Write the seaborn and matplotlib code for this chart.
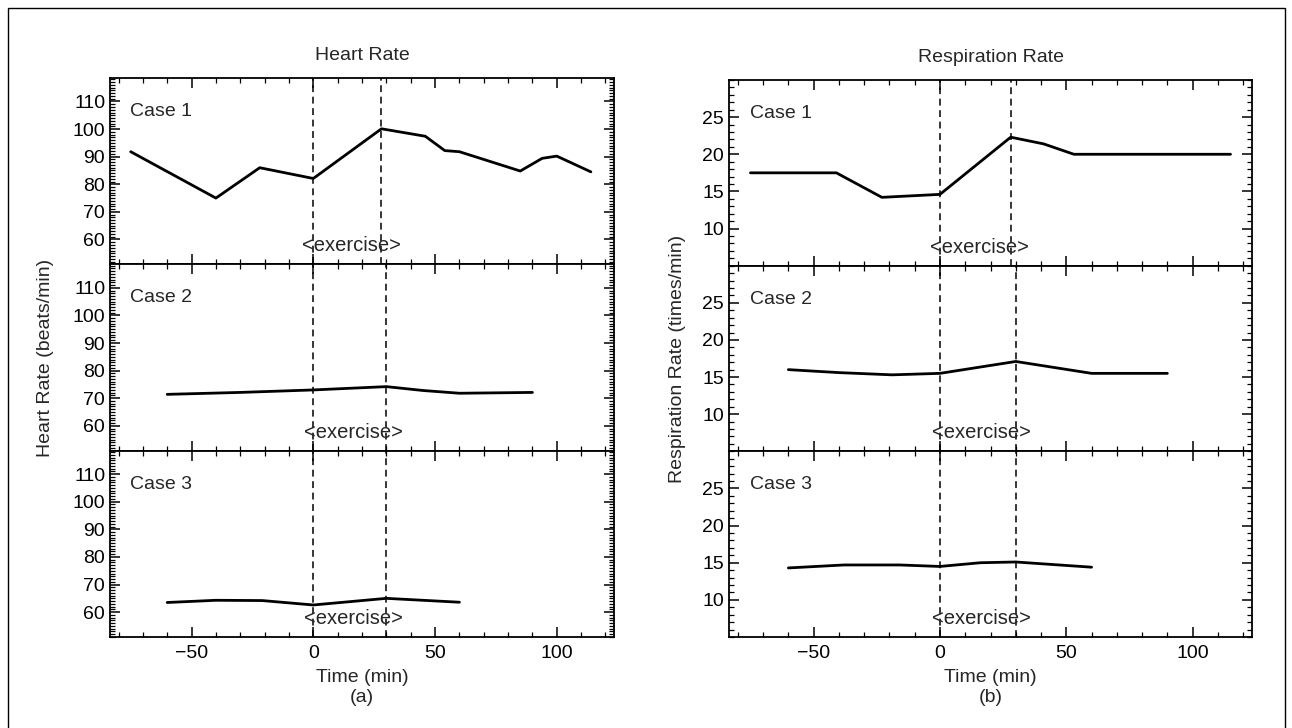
import numpy as np
import pandas as pd
import seaborn as sns
import matplotlib.pyplot as plt
from matplotlib.ticker import MultipleLocator
from matplotlib.patches import Rectangle

# heart rate (beats/min)
hr_t1 = [-75, -40, -22, 0, 28, 46, 54, 60, 85, 94, 100, 114]
hr_v1 = [91.8, 75.0, 86.0, 82.1, 100.1, 97.4, 92.2, 91.8, 84.8, 89.4, 90.2, 84.5]
hr_t2 = [-60, -30, 0, 30, 45, 60, 90]
hr_v2 = [71.4, 72.1, 73.0, 74.2, 72.8, 71.8, 72.1]
hr_t3 = [-60, -40, -21, 0, 30, 60]
hr_v3 = [63.5, 64.3, 64.2, 62.6, 65.0, 63.6]

# respiration rate (times/min)
rr_t1 = [-75, -41, -23, 0, 28, 41, 53, 115]
rr_v1 = [17.5, 17.5, 14.2, 14.6, 22.3, 21.4, 20.0, 20.0]
rr_t2 = [-60, -40, -19, 0, 30, 60, 90]
rr_v2 = [16.0, 15.6, 15.3, 15.5, 17.1, 15.5, 15.5]
rr_t3 = [-60, -38, -16, 0, 16, 30, 60]
rr_v3 = [14.3, 14.7, 14.7, 14.5, 15.0, 15.1, 14.4]

# end of exercise per case (start is t=0)
ex_end = [28, 30, 30]
cases = ['Case 1', 'Case 2', 'Case 3']
hr_ticks = [60, 70, 80, 90, 100, 110]
rr_ticks = [10, 15, 20, 25]

hr = [(hr_t1, hr_v1), (hr_t2, hr_v2), (hr_t3, hr_v3)]
rr = [(rr_t1, rr_v1), (rr_t2, rr_v2), (rr_t3, rr_v3)]

sns.set_style('ticks')
plt.rcParams['font.family'] = ['Liberation Sans', 'DejaVu Sans']
plt.rcParams['font.size'] = 14
plt.rcParams['axes.linewidth'] = 1.3
plt.rcParams['xtick.direction'] = 'in'
plt.rcParams['ytick.direction'] = 'in'

fig = plt.figure(figsize=(12.92, 7.28), dpi=100)

W, H = 1292, 728


def column(x0, x1, y0, y1, series, ylim, yticks, title, ylabel, letter, ylab_x):
    ph = (y1 - y0) / 3
    axes = []
    for i in range(3):
        top = y0 + i * ph
        ax = fig.add_axes([x0 / W, 1 - (top + ph) / H, (x1 - x0) / W, ph / H])
        t, v = series[i]
        df = pd.DataFrame({'t': t, 'v': v})
        sns.lineplot(data=df, x='t', y='v', ax=ax, color='black', lw=2.0)
        for xv in (0, ex_end[i]):
            ax.axvline(xv, color='black', lw=1.1, ls=(0, (4.5, 3)))
        ax.text(ex_end[i] / 2 + 1.5, 0.10, '<exercise>', transform=ax.get_xaxis_transform(),
                ha='center', va='center', fontsize=14.5)
        ax.text(0.04, 0.82, cases[i], transform=ax.transAxes, ha='left', va='center', fontsize=14)
        ax.set_xlim(-83.5, 123.5)
        ax.set_ylim(*ylim)
        ax.set_yticks(yticks)
        ax.xaxis.set_major_locator(MultipleLocator(50))
        ax.xaxis.set_minor_locator(MultipleLocator(10))
        ax.yaxis.set_minor_locator(MultipleLocator(1))
        ax.tick_params(which='both', top=True, right=True, colors='black', labelsize=14)
        ax.tick_params(which='major', length=7, width=1.1)
        ax.tick_params(axis='x', which='major', pad=6)
        ax.tick_params(which='minor', length=3.5, width=0.9)
        ax.set_ylabel('')
        ax.set_xlabel('')
        for s in ax.spines.values():
            s.set_color('black')
        if i < 2:
            ax.tick_params(labelbottom=False)
        axes.append(ax)
    axes[0].set_title(title, fontsize=14, pad=13)
    axes[2].set_xlabel('Time (min)\n' + letter, fontsize=14, linespacing=1.2, labelpad=5)
    fig.text(ylab_x / W, 1 - (y0 + y1) / 2 / H, ylabel, rotation=90, ha='center', va='center', fontsize=14)
    return axes


column(110, 614, 78, 637, hr, (51, 118.5), hr_ticks, 'Heart Rate', 'Heart Rate (beats/min)', '(a)', 46)
column(729, 1252, 80, 637, rr, (5, 30), rr_ticks, 'Respiration Rate', 'Respiration Rate (times/min)', '(b)', 678)

# frame around the scanned figure
fig.patches.append(Rectangle((8 / W, -0.02), (1285 - 8) / W, 1.02 - 8 / H,
                             transform=fig.transFigure, fill=False, edgecolor='black', lw=1.0))

fig.savefig('out.png', dpi=100, facecolor='white')
